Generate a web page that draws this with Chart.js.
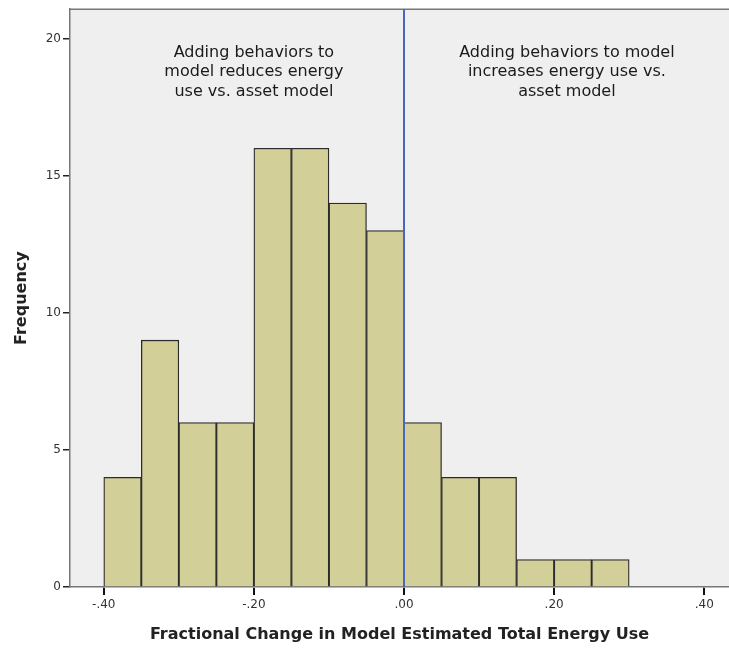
<!DOCTYPE html>
<html>
<head>
<meta charset="utf-8">
<script src="https://cdn.jsdelivr.net/npm/chart.js@4.4.1/dist/chart.umd.min.js"></script>
<style>
  html, body { margin: 0; padding: 0; background: #fff; }
  #wrap { width: 729px; height: 649px; position: relative; }
</style>
</head>
<body>
<div id="wrap"><canvas id="hist"></canvas></div>
<script>
// histogram bins (centre of each 0.05 wide bin) and counts
const binCenters = [-0.375, -0.325, -0.275, -0.225, -0.175, -0.125, -0.075, -0.025, 0.025, 0.075, 0.125, 0.175, 0.225, 0.275];
const counts = [4, 9, 6, 6, 16, 16, 14, 13, 6, 4, 4, 1, 1, 1];
const xTicks = [-0.4, -0.2, 0, 0.2, 0.4];
const yTicks = [0, 5, 10, 15, 20];
const leftNote = ['Adding behaviors to', 'model reduces energy', 'use vs. asset model'];
const rightNote = ['Adding behaviors to model', 'increases energy use vs.', 'asset model'];

const ctx = document.getElementById('hist').getContext('2d');

const fmtTick = (v) => {
  const s = Math.abs(v).toFixed(2).replace(/^0/, '');
  return (v < 0 ? '-' : '') + s;
};

// grey plot background + top frame
const plotBg = {
  id: 'plotBg',
  beforeDraw(chart) {
    const { ctx, chartArea: a } = chart;
    ctx.save();
    ctx.fillStyle = '#efefef';
    ctx.fillRect(a.left, a.top, a.right - a.left, a.bottom - a.top);
    ctx.strokeStyle = '#777';
    ctx.lineWidth = 1.5;
    ctx.beginPath();
    ctx.moveTo(a.left, a.top);
    ctx.lineTo(a.right, a.top);
    ctx.stroke();
    ctx.restore();
  }
};

// blue reference line at zero, the two notes, x tick marks
const zeroLine = {
  id: 'zeroLine',
  afterDatasetsDraw(chart) {
    const { ctx, chartArea: a, scales } = chart;
    const x0 = scales.x.getPixelForValue(0);
    ctx.save();
    ctx.strokeStyle = '#4a66bd';
    ctx.lineWidth = 2;
    ctx.beginPath();
    ctx.moveTo(x0, a.top);
    ctx.lineTo(x0, a.bottom);
    ctx.stroke();

    ctx.fillStyle = '#1a1a1a';
    ctx.font = '16px "DejaVu Sans"';
    ctx.textAlign = 'center';
    ctx.textBaseline = 'middle';
    const lineYs = [19.47, 18.78, 18.05];
    const xl = scales.x.getPixelForValue(-0.2);
    const xr = scales.x.getPixelForValue(0.217);
    leftNote.forEach((t, i) => ctx.fillText(t, xl, scales.y.getPixelForValue(lineYs[i])));
    rightNote.forEach((t, i) => ctx.fillText(t, xr, scales.y.getPixelForValue(lineYs[i])));
    ctx.restore();
  },
  afterDraw(chart) {
    const { ctx, chartArea: a, scales } = chart;
    ctx.save();
    ctx.strokeStyle = '#111';
    ctx.lineWidth = 2;
    xTicks.forEach(v => {
      const px = Math.round(scales.x.getPixelForValue(v));
      ctx.beginPath();
      ctx.moveTo(px, a.bottom + 1);
      ctx.lineTo(px, a.bottom + 8);
      ctx.stroke();
    });
    ctx.restore();
  }
};

new Chart(ctx, {
  type: 'bar',
  data: {
    datasets: [{
      data: binCenters.map((c, i) => ({ x: c, y: counts[i] })),
      backgroundColor: '#d3cf98',
      borderColor: '#2b2b2b',
      borderWidth: 1.3,
      barPercentage: 1,
      categoryPercentage: 1
    }]
  },
  options: {
    responsive: true,
    maintainAspectRatio: false,
    animation: false,
    plugins: {
      legend: { display: false },
      tooltip: { enabled: false }
    },
    layout: {
      padding: { top: 9, left: 0, right: 0, bottom: 0 }
    },
    scales: {
      x: {
        type: 'linear',
        offset: false,
        min: -0.445,
        max: 0.433,
        afterBuildTicks: (s) => { s.ticks = xTicks.map(v => ({ value: v })); },
        afterFit: (s) => { s.height = 62; },
        grid: { offset: false, drawOnChartArea: false, drawTicks: true, tickLength: 7, color: '#222', lineWidth: 1.5 },
        border: { display: true, color: '#777', width: 1.5 },
        ticks: {
          color: '#333',
          padding: 4,
          maxRotation: 0,
          font: { family: 'DejaVu Sans', size: 12 },
          callback: (v) => fmtTick(v)
        },
        title: {
          display: true,
          text: 'Fractional Change in Model Estimated Total Energy Use',
          color: '#222',
          padding: { top: 0, bottom: 5 },
          font: { family: 'DejaVu Sans', size: 16, weight: 'bold' }
        }
      },
      y: {
        min: 0,
        max: 21.07,
        afterBuildTicks: (s) => { s.ticks = yTicks.map(v => ({ value: v })); },
        afterFit: (s) => { s.width = 70; },
        grid: { drawOnChartArea: false, drawTicks: true, tickLength: 7, color: '#222', lineWidth: 1.5 },
        border: { display: true, color: '#777', width: 1.5 },
        ticks: {
          color: '#333',
          padding: 2,
          font: { family: 'DejaVu Sans', size: 12 }
        },
        title: {
          display: true,
          text: 'Frequency',
          color: '#222',
          padding: { top: 12, bottom: 0 },
          font: { family: 'DejaVu Sans', size: 16, weight: 'bold' }
        }
      }
    }
  },
  plugins: [plotBg, zeroLine]
});
</script>
</body>
</html>
